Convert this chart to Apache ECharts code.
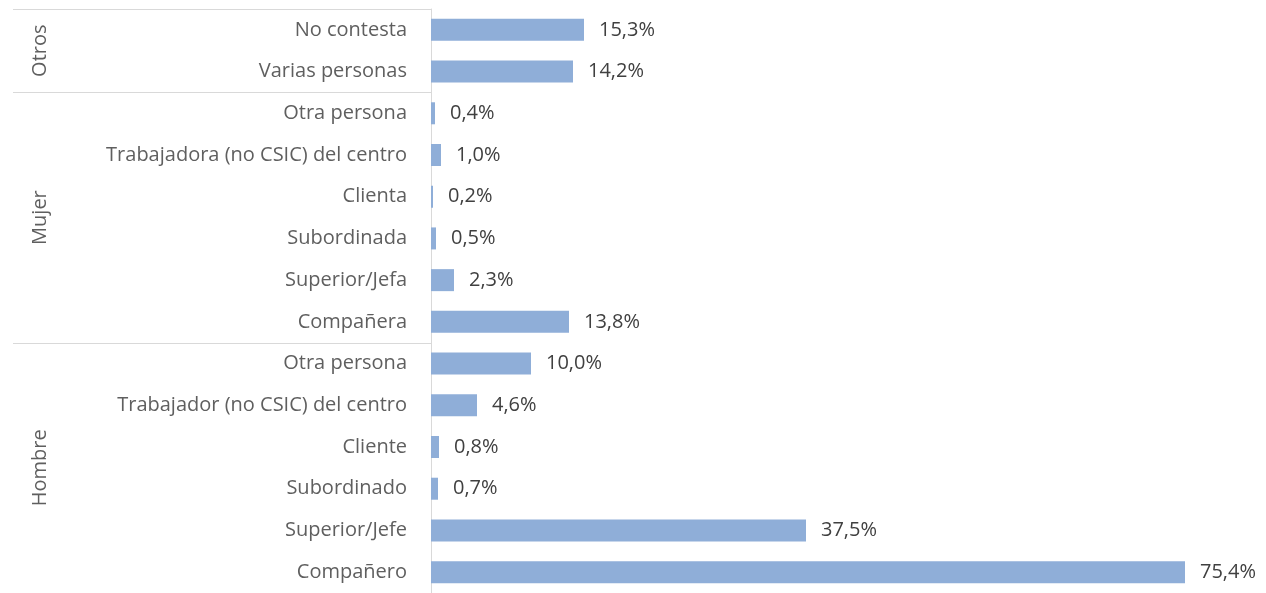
<!DOCTYPE html>
<html>
<head>
<meta charset="utf-8">
<script src="https://cdn.jsdelivr.net/npm/echarts@6/dist/echarts.min.js"></script>
<style>
  html, body { margin: 0; padding: 0; background: #ffffff; }
  #chart { width: 1266px; height: 593px; }
</style>
</head>
<body>
<div id="chart"></div>
<script>
// Who was the aggressor: categories top to bottom, grouped by sex
const categories = [
  'No contesta', 'Varias personas',
  'Otra persona', 'Trabajadora (no CSIC) del centro', 'Clienta', 'Subordinada', 'Superior/Jefa', 'Compañera',
  'Otra persona', 'Trabajador (no CSIC) del centro', 'Cliente', 'Subordinado', 'Superior/Jefe', 'Compañero'
];
const values = [15.3, 14.2, 0.4, 1.0, 0.2, 0.5, 2.3, 13.8, 10.0, 4.6, 0.8, 0.7, 37.5, 75.4];
// Group name with first and last category index (inclusive)
const groups = [
  { name: 'Otros', from: 0, to: 1 },
  { name: 'Mujer', from: 2, to: 7 },
  { name: 'Hombre', from: 8, to: 13 }
];

const FONT = 'Open Sans';
const chart = echarts.init(document.getElementById('chart'), null, { renderer: 'canvas' });

const option = {
  animation: false,
  grid: { left: 431, right: 35, top: 9, bottom: -4, containLabel: false },
  xAxis: {
    type: 'value', min: 0, max: 80,
    show: false
  },
  yAxis: {
    type: 'category',
    inverse: true,
    data: categories.map((c, i) => String(i)),
    axisLine: { show: true, lineStyle: { color: '#d9d9d9', width: 1 } },
    axisTick: { show: false },
    axisLabel: {
      margin: 24,
      color: '#5f5f5f',
      fontFamily: FONT,
      fontSize: 20,
      formatter: (v) => categories[Number(v)]
    },
    splitLine: { show: false }
  },
  series: [{
    type: 'bar',
    data: values,
    barWidth: 22,
    itemStyle: { color: '#8faed8' },
    label: {
      show: true,
      position: 'right',
      distance: 15,
      color: '#404040',
      fontFamily: FONT,
      fontSize: 20,
      formatter: (p) => p.value.toFixed(1).replace('.', ',') + '%'
    }
  }]
};
chart.setOption(option);

// Group labels and separators on the left of the category axis
function drawGroups() {
  const axisX = chart.convertToPixel({ gridIndex: 0 }, [0, 0])[0];
  const y0 = chart.convertToPixel({ yAxisIndex: 0 }, '0');
  const y1 = chart.convertToPixel({ yAxisIndex: 0 }, '1');
  const step = y1 - y0;
  const elements = [];
  groups.forEach((g) => {
    const top = chart.convertToPixel({ yAxisIndex: 0 }, String(g.from)) - step / 2;
    const bottom = chart.convertToPixel({ yAxisIndex: 0 }, String(g.to)) + step / 2;
    elements.push({
      type: 'line',
      shape: { x1: 13, y1: Math.round(top) + 0.5, x2: axisX, y2: Math.round(top) + 0.5 },
      style: { stroke: '#d9d9d9', lineWidth: 1 },
      silent: true
    });
    elements.push({
      type: 'text',
      x: 40, y: (top + bottom) / 2,
      rotation: Math.PI / 2,
      style: {
        text: g.name, fill: '#5f5f5f', font: '20px "' + FONT + '"',
        align: 'center', verticalAlign: 'middle'
      },
      silent: true
    });
  });
  chart.setOption({ graphic: { elements } });
}
drawGroups();
</script>
</body>
</html>
